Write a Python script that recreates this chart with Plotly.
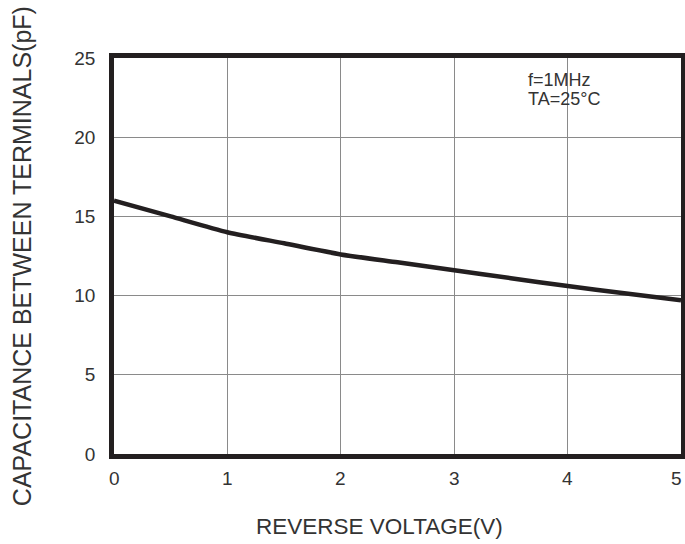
import plotly.graph_objects as go

voltage = [0, 0.5, 1, 1.5, 2, 2.5, 3, 3.5, 4, 4.5, 5]
capacitance = [16.0, 15.0, 14.0, 13.3, 12.6, 12.1, 11.6, 11.1, 10.6, 10.15, 9.7]
x_ticks = [0, 1, 2, 3, 4, 5]
y_ticks = [0, 5, 10, 15, 20, 25]
x_title = "REVERSE VOLTAGE(V)"
y_title = "CAPACITANCE BETWEEN TERMINALS(pF)"
notes = ["f=1MHz", "TA=25°C"]

FONT = "Liberation Sans, Arial, sans-serif"
DARK = "#231f20"
TXT = "#333333"

fig = go.Figure()
fig.add_trace(go.Scatter(x=voltage, y=capacitance, mode="lines",
                         line=dict(color=DARK, width=4.5, shape="spline", smoothing=0.6),
                         showlegend=False, hoverinfo="skip"))

fig.update_layout(
    width=685, height=544,
    margin=dict(l=114, r=4, t=58, b=90),
    paper_bgcolor="white", plot_bgcolor="white",
    font=dict(family=FONT, color=TXT, size=19),
    xaxis=dict(range=[0, 5], tickvals=x_ticks, showticklabels=False, showgrid=True,
               gridcolor="#8a8a8a", gridwidth=1, showline=True, linecolor=DARK,
               linewidth=4.5, mirror=True, zeroline=False, automargin=False),
    yaxis=dict(range=[0, 25], tickvals=y_ticks, ticks="outside", ticklen=10,
               tickcolor="rgba(0,0,0,0)", showgrid=True,
               gridcolor="#8a8a8a", gridwidth=1, showline=True, linecolor=DARK,
               linewidth=4.5, mirror=True, zeroline=False, automargin=False,
               tickfont=dict(size=19, color=TXT)),
)

# x tick labels
for v in x_ticks:
    last = v == x_ticks[-1]
    fig.add_annotation(xref="x", yref="paper", x=v, y=0, yshift=-24,
                       xanchor="right" if last else "center", xshift=3 if last else 0,
                       yanchor="middle", showarrow=False, text=str(v),
                       font=dict(size=19, color=TXT))

# axis titles
fig.add_annotation(xref="paper", yref="paper", x=0.469, y=-0.184, xanchor="center",
                   yanchor="middle", showarrow=False, text=x_title,
                   font=dict(size=22.5, color=TXT))
fig.add_annotation(xref="paper", yref="paper", x=-0.162, y=0.5, xanchor="center",
                   yanchor="middle", showarrow=False, text=y_title, textangle=-90,
                   font=dict(size=25, color=TXT))

# condition notes
for i, t in enumerate(notes):
    fig.add_annotation(xref="paper", yref="paper", x=0.727, y=1, yshift=-22 - 19 * i,
                       xanchor="left", yanchor="middle", showarrow=False, text=t,
                       font=dict(size=18, color=TXT))

fig.write_html("out.html", config={"displayModeBar": False},
               post_script="document.body.style.margin='0';")
